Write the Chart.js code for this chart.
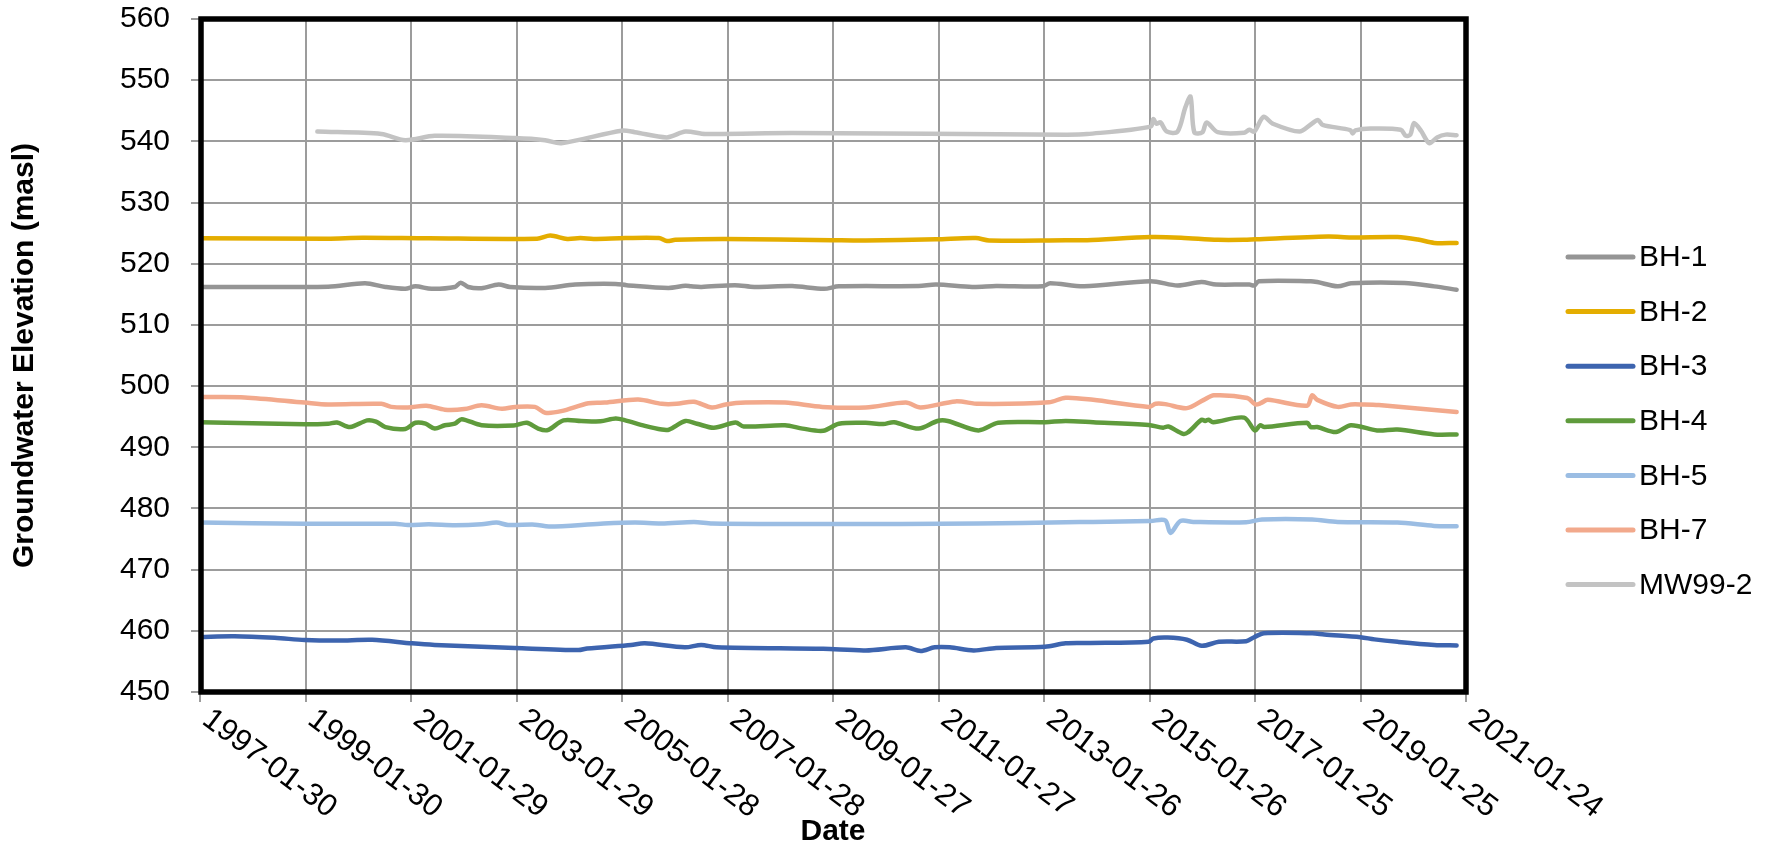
<!DOCTYPE html>
<html>
<head>
<meta charset="utf-8">
<title>Groundwater Elevation</title>
<script src="https://cdn.jsdelivr.net/npm/chart.js@4/dist/chart.umd.min.js"></script>
<style>
  html, body { margin: 0; padding: 0; background: #ffffff; }
  #wrap { width: 1779px; height: 847px; }
</style>
</head>
<body>
<div id="wrap"><canvas id="chart" width="1779" height="847"></canvas></div>
<script>
// ---- Axis labels ----
const xTickLabels = ['1997-01-30', '1999-01-30', '2001-01-29', '2003-01-29', '2005-01-28',
  '2007-01-28', '2009-01-27', '2011-01-27', '2013-01-26', '2015-01-26',
  '2017-01-25', '2019-01-25', '2021-01-24'];
const yMin = 450;
const yMax = 560;
const yStep = 10;
const xTitle = 'Date';
const yTitle = 'Groundwater Elevation (masl)';

// ---- Series ----
const seriesNames = ['BH-1', 'BH-2', 'BH-3', 'BH-4', 'BH-5', 'BH-7', 'MW99-2'];

const bh1Dates = ['1997-01-30', '1999-07-05', '2000-03-17', '2000-08-05', '2000-12-20', '2001-03-01',
  '2001-06-20', '2001-11-28', '2002-01-08', '2002-03-01', '2002-06-01', '2002-09-27', '2002-12-15',
  '2003-08-15', '2004-03-10', '2004-12-15', '2005-03-01', '2005-12-15', '2006-04-12', '2006-05-20',
  '2006-08-01', '2007-03-20', '2007-08-01', '2008-04-20', '2008-11-25', '2009-03-08', '2010-09-12',
  '2011-01-10', '2011-09-17', '2012-03-01', '2013-01-15', '2013-03-10', '2013-10-30', '2015-02-03',
  '2015-08-08', '2016-01-20', '2016-05-01', '2016-12-17', '2017-01-20', '2017-02-20', '2018-02-15',
  '2018-04-01', '2018-08-20', '2018-11-20', '2019-11-25', '2020-06-18', '2020-11-20'];
const bh1Levels = [516.2, 516.25, 516.8, 516.2, 515.9, 516.3,
  515.9, 516.2, 516.9, 516.2, 516.0, 516.6, 516.2,
  516.05, 516.6, 516.7, 516.5, 516.05, 516.4, 516.3,
  516.2, 516.5, 516.2, 516.35, 515.9, 516.3, 516.35,
  516.6, 516.2, 516.35, 516.3, 516.8, 516.3, 517.15,
  516.45, 517.0, 516.6, 516.6, 516.45, 517.15, 517.15,
  517.0, 516.3, 516.8, 516.85, 516.3, 515.75];

const bh2Dates = ['1997-01-30', '1999-07-01', '2000-03-01', '2001-06-01', '2003-06-20', '2003-09-20',
  '2004-01-15', '2004-04-15', '2004-07-15', '2005-02-20', '2005-10-10', '2005-12-05', '2006-02-01',
  '2007-01-10', '2009-01-20', '2009-09-10', '2011-01-10', '2011-10-12', '2012-01-12', '2013-06-25',
  '2013-11-20', '2015-02-03', '2015-09-01', '2016-05-12', '2016-11-10', '2017-02-01', '2018-06-15',
  '2018-11-20', '2019-10-08', '2020-02-25', '2020-06-18', '2020-11-20'];
const bh2Levels = [524.15, 524.1, 524.25, 524.15, 524.1, 524.6,
  524.05, 524.2, 524.05, 524.2, 524.2, 523.7, 523.9,
  524.05, 523.85, 523.8, 524.0, 524.2, 523.8, 523.85,
  523.85, 524.35, 524.25, 523.9, 523.9, 524.0, 524.45,
  524.3, 524.35, 523.95, 523.4, 523.4];

const bh3Dates = ['1997-01-30', '1997-09-25', '1998-07-01', '1999-01-25', '1999-09-12', '2000-05-05',
  '2001-02-05', '2001-07-12', '2003-01-18', '2004-04-01', '2004-06-01', '2005-04-01', '2005-07-05',
  '2006-04-08', '2006-07-30', '2006-11-15', '2008-11-20', '2009-09-10', '2010-06-15', '2010-09-25',
  '2011-01-01', '2011-04-15', '2011-09-27', '2012-03-01', '2013-02-01', '2013-06-25', '2013-11-20',
  '2015-01-20', '2015-02-21', '2015-06-01', '2015-10-12', '2016-01-22', '2016-05-20', '2016-11-25',
  '2017-01-22', '2017-03-28', '2018-02-25', '2018-05-20', '2019-01-25', '2019-05-01', '2019-10-08',
  '2020-06-18', '2020-11-20'];
const bh3Levels = [459.0, 459.1, 458.85, 458.5, 458.4, 458.55,
  457.95, 457.7, 457.2, 456.85, 457.1, 457.7, 457.95,
  457.3, 457.7, 457.3, 457.05, 456.8, 457.3, 456.7,
  457.3, 457.3, 456.8, 457.2, 457.4, 457.95, 458.0,
  458.2, 458.75, 458.9, 458.55, 457.55, 458.2, 458.3,
  459.0, 459.6, 459.6, 459.4, 458.95, 458.6, 458.2,
  457.7, 457.6];

const bh4Dates = ['1997-01-30', '1999-01-25', '1999-07-05', '1999-09-05', '1999-12-05', '2000-04-01',
  '2000-06-01', '2000-08-05', '2000-12-20', '2001-03-01', '2001-05-10', '2001-07-12', '2001-09-20',
  '2001-11-28', '2002-01-15', '2002-06-01', '2003-01-10', '2003-04-10', '2003-06-28', '2003-09-01',
  '2003-12-20', '2004-04-20', '2004-09-01', '2004-12-15', '2005-02-20', '2005-07-05', '2005-10-30',
  '2005-12-20', '2006-04-12', '2006-07-01', '2006-10-25', '2007-03-25', '2007-05-20', '2008-03-01',
  '2008-07-01', '2008-11-20', '2009-03-08', '2009-09-10', '2010-01-10', '2010-03-25', '2010-09-12',
  '2011-01-20', '2011-04-01', '2011-10-30', '2012-03-15', '2013-02-05', '2013-06-25', '2014-01-01',
  '2015-01-20', '2015-05-01', '2015-06-05', '2015-09-15', '2015-10-20', '2016-01-22', '2016-02-15',
  '2016-03-10', '2016-04-10', '2016-11-10', '2017-01-25', '2017-03-01', '2017-04-01', '2018-01-20',
  '2018-02-15', '2018-04-01', '2018-08-08', '2018-11-20', '2019-05-20', '2019-10-08', '2020-06-18',
  '2020-11-20'];
const bh4Levels = [494.1, 493.75, 493.85, 494.05, 493.3, 494.4,
  494.2, 493.3, 493.0, 494.0, 493.85, 493.05, 493.6,
  493.85, 494.6, 493.6, 493.55, 494.0, 493.05, 492.8,
  494.4, 494.3, 494.25, 494.7, 494.4, 493.5, 492.9,
  492.9, 494.3, 493.85, 493.2, 494.05, 493.4, 493.6,
  493.05, 492.7, 493.85, 494.0, 493.8, 494.1, 493.05,
  494.3, 494.3, 492.75, 494.0, 494.1, 494.3, 494.1,
  493.65, 493.2, 493.4, 492.2, 492.45, 494.5, 494.3,
  494.5, 494.1, 494.85, 492.75, 493.6, 493.3, 494.0,
  493.3, 493.3, 492.5, 493.6, 492.75, 492.9, 492.1,
  492.1];

const bh5Dates = ['1997-01-30', '1999-01-25', '2000-10-10', '2001-01-08', '2001-06-01', '2001-12-01',
  '2002-06-01', '2002-09-12', '2002-12-01', '2003-06-05', '2003-09-12', '2004-09-01', '2005-04-27',
  '2005-10-30', '2006-06-10', '2006-10-15', '2008-11-20', '2011-10-30', '2013-06-25', '2014-01-01',
  '2015-02-03', '2015-05-15', '2015-06-20', '2015-08-28', '2015-11-25', '2016-11-25', '2017-03-15',
  '2018-02-25', '2018-08-20', '2019-10-08', '2020-06-18', '2020-11-20'];
const bh5Levels = [477.7, 477.5, 477.5, 477.3, 477.4, 477.25,
  477.4, 477.7, 477.3, 477.35, 477.05, 477.5, 477.7,
  477.55, 477.8, 477.55, 477.45, 477.55, 477.75, 477.8,
  477.95, 478.05, 476.0, 477.95, 477.8, 477.75, 478.2,
  478.2, 477.8, 477.7, 477.15, 477.1];

const bh7Dates = ['1997-01-30', '1997-12-05', '1999-01-25', '1999-07-05', '2000-07-08', '2000-09-15',
  '2001-01-08', '2001-05-15', '2001-09-20', '2002-02-01', '2002-06-01', '2002-10-20', '2003-01-20',
  '2003-06-05', '2003-08-15', '2003-12-05', '2004-06-10', '2004-10-01', '2005-05-20', '2005-10-30',
  '2006-02-10', '2006-06-10', '2006-10-12', '2007-01-15', '2007-06-01', '2008-03-01', '2008-11-15',
  '2009-09-10', '2010-06-15', '2010-09-25', '2011-05-25', '2011-11-01', '2013-03-01', '2013-06-25',
  '2014-01-01', '2015-01-20', '2015-03-10', '2015-05-15', '2015-10-12', '2016-02-06', '2016-04-15',
  '2016-12-03', '2017-01-28', '2017-03-05', '2017-04-23', '2018-01-20', '2018-02-25', '2018-04-01',
  '2018-08-20', '2018-11-20', '2019-02-05', '2019-06-01', '2020-11-20'];
const bh7Levels = [498.2, 498.15, 497.3, 497.0, 497.1, 496.6,
  496.5, 496.8, 496.15, 496.25, 496.85, 496.3, 496.6,
  496.6, 495.65, 495.9, 497.2, 497.3, 497.8, 497.1,
  497.1, 497.45, 496.5, 497.0, 497.3, 497.3, 496.6,
  496.5, 497.3, 496.5, 497.5, 497.1, 497.35, 498.1,
  497.75, 496.6, 497.1, 497.05, 496.4, 497.75, 498.5,
  498.05, 497.0, 497.2, 497.75, 496.8, 498.5, 497.75,
  496.6, 497.0, 497.0, 496.9, 495.75];

const mw992Dates = ['1999-04-22', '2000-07-08', '2000-12-20', '2001-07-12', '2003-01-18', '2003-08-15',
  '2003-12-05', '2005-01-25', '2005-04-27', '2005-12-05', '2006-04-12', '2006-08-28', '2008-04-20',
  '2013-06-25', '2013-11-20', '2015-02-03', '2015-02-21', '2015-03-15', '2015-04-12', '2015-05-26',
  '2015-08-08', '2015-10-01', '2015-11-06', '2015-12-02', '2016-01-27', '2016-02-25', '2016-05-12',
  '2016-11-10', '2016-12-17', '2017-01-20', '2017-03-25', '2017-05-27', '2017-11-28', '2018-02-17',
  '2018-04-06', '2018-05-08', '2018-11-15', '2018-12-02', '2018-12-20', '2019-04-05', '2019-10-30',
  '2019-12-05', '2020-01-05', '2020-01-30', '2020-03-18', '2020-05-15', '2020-07-08', '2020-09-05',
  '2020-11-20'];
const mw992Levels = [541.6, 541.2, 540.2, 540.9, 540.55, 540.2,
  539.7, 541.75, 541.5, 540.65, 541.6, 541.2, 541.35,
  541.1, 541.2, 542.4, 543.65, 542.9, 543.1, 541.6,
  541.6, 545.55, 547.3, 541.5, 541.5, 543.1, 541.5,
  541.4, 541.9, 541.6, 544.0, 542.9, 541.6, 542.8,
  543.5, 542.7, 541.85, 541.3, 541.8, 542.1, 541.9,
  540.9, 541.1, 543.0, 541.75, 539.7, 540.65, 541.1,
  541.0];

const seriesDates = [bh1Dates, bh2Dates, bh3Dates, bh4Dates, bh5Dates, bh7Dates, mw992Dates];
const seriesLevels = [bh1Levels, bh2Levels, bh3Levels, bh4Levels, bh5Levels, bh7Levels, mw992Levels];
const seriesColors = ['#959595', '#E4AD00', '#3D64AF', '#5F9B3C', '#9BBDE3', '#F2A98C', '#C3C3C3'];

// ---- Helpers ----
const FONT = "'Liberation Sans', Arial, Helvetica, sans-serif";
const DAY = 86400000;
const origin = Date.parse(xTickLabels[0] + 'T00:00:00Z');
function dayOf(iso) {
  return Math.round((Date.parse(iso + 'T00:00:00Z') - origin) / DAY);
}

const datasets = seriesNames.map((name, i) => ({
  label: name,
  data: seriesDates[i].map((d, k) => ({ x: dayOf(d), y: seriesLevels[i][k] })),
  borderColor: seriesColors[i],
  backgroundColor: seriesColors[i],
  borderWidth: 4.5,
  borderCapStyle: 'round',
  borderJoinStyle: 'round',
  pointRadius: 0,
  pointHoverRadius: 0,
  tension: 0.3,
  fill: false
}));

// Black frame round the plot area
const framePlugin = {
  id: 'frame',
  afterDatasetsDraw(chart) {
    const { ctx, chartArea: a } = chart;
    ctx.save();
    ctx.strokeStyle = '#000000';
    ctx.lineWidth = 5.5;
    ctx.lineJoin = 'miter';
    ctx.strokeRect(a.left + 1, a.top, a.right - a.left - 1, a.bottom - a.top);
    ctx.restore();
  }
};

// Slanted date labels that start at their tick and run down to the right
const dateLabelPlugin = {
  id: 'dateLabels',
  afterDraw(chart) {
    const { ctx } = chart;
    const xs = chart.scales.x;
    const angle = 37 * Math.PI / 180;
    ctx.save();
    ctx.font = '31px ' + FONT;
    ctx.fillStyle = '#000000';
    ctx.textAlign = 'left';
    ctx.textBaseline = 'middle';
    xTickLabels.forEach(lbl => {
      const px = xs.getPixelForValue(dayOf(lbl));
      ctx.save();
      ctx.translate(px + 6, xs.top + 24);
      ctx.rotate(angle);
      ctx.fillText(lbl, 0, 0);
      ctx.restore();
    });
    ctx.restore();
  }
};

// Legend column on the right
const legendPlugin = {
  id: 'sideLegend',
  afterDraw(chart) {
    const { ctx } = chart;
    const x0 = 1568, x1 = 1633, tx = 1639;
    const yFirst = 257, gap = 54.6;
    ctx.save();
    ctx.font = '30px ' + FONT;
    ctx.textAlign = 'left';
    ctx.textBaseline = 'middle';
    chart.data.datasets.forEach((ds, i) => {
      const y = yFirst + i * gap;
      ctx.strokeStyle = ds.borderColor;
      ctx.lineWidth = 5;
      ctx.lineCap = 'round';
      ctx.beginPath();
      ctx.moveTo(x0, y);
      ctx.lineTo(x1, y);
      ctx.stroke();
      ctx.fillStyle = '#000000';
      ctx.fillText(ds.label, tx, y + 1);
    });
    ctx.restore();
  }
};

const gridColor = '#9c9c9c';

new Chart(document.getElementById('chart'), {
  type: 'line',
  data: { datasets },
  options: {
    responsive: false,
    animation: false,
    events: [],
    layout: { padding: { top: 19, right: 313, left: 0, bottom: 0 } },
    plugins: {
      legend: { display: false },
      tooltip: { enabled: false }
    },
    scales: {
      x: {
        type: 'linear',
        min: dayOf(xTickLabels[0]),
        max: dayOf(xTickLabels[xTickLabels.length - 1]),
        afterBuildTicks(scale) {
          scale.ticks = xTickLabels.map(d => ({ value: dayOf(d) }));
        },
        afterFit(scale) {
          scale.height = 155;
          scale.paddingLeft = 0;
          scale.paddingRight = 0;
        },
        ticks: { display: false },
        grid: {
          color: gridColor,
          lineWidth: 2,
          drawTicks: true,
          tickLength: 10,
          tickColor: gridColor
        },
        border: { display: false },
        title: {
          display: true,
          text: xTitle,
          color: '#000000',
          font: { family: FONT, size: 30, weight: 'bold', lineHeight: 1 },
          padding: { top: 0, bottom: 0 }
        }
      },
      y: {
        type: 'linear',
        min: yMin,
        max: yMax,
        afterFit(scale) {
          scale.width = 200;
          scale.paddingTop = 0;
          scale.paddingBottom = 0;
        },
        ticks: {
          stepSize: yStep,
          color: '#000000',
          padding: 21,
          font: { family: FONT, size: 30 }
        },
        grid: {
          color: gridColor,
          lineWidth: 2,
          drawTicks: true,
          tickLength: 9,
          tickColor: gridColor
        },
        border: { display: false },
        title: {
          display: true,
          text: yTitle,
          color: '#000000',
          font: { family: FONT, size: 30, weight: 'bold', lineHeight: 1.2 },
          padding: { top: 7, bottom: 0 }
        }
      }
    }
  },
  plugins: [framePlugin, dateLabelPlugin, legendPlugin]
});
</script>
</body>
</html>
